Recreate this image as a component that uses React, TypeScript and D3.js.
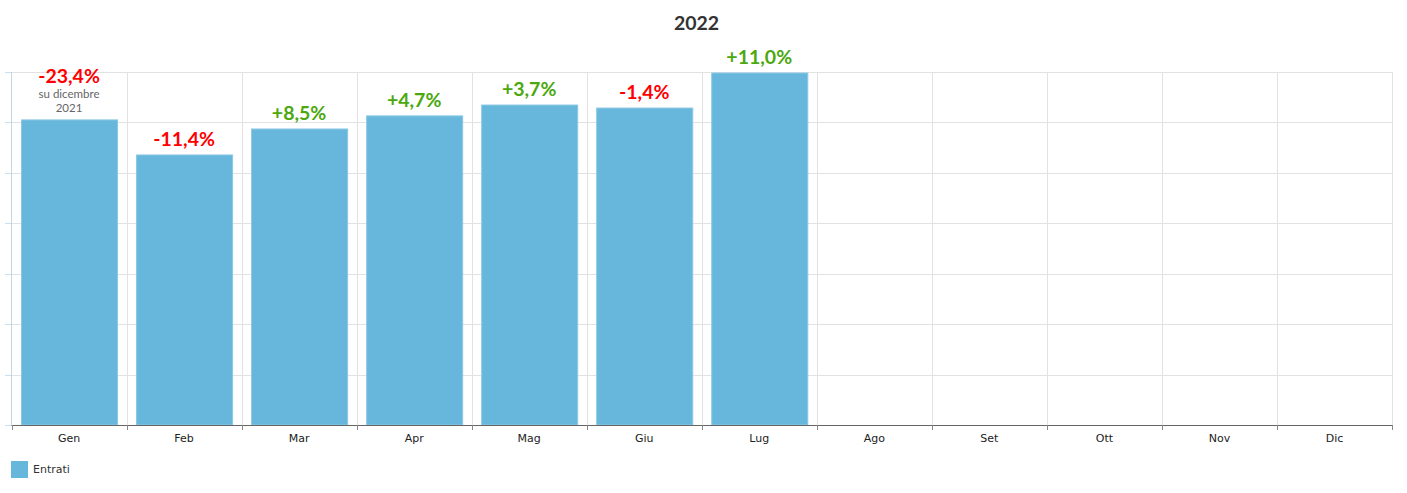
import React from "react";
import * as d3 from "d3";

const months = ["Gen", "Feb", "Mar", "Apr", "Mag", "Giu", "Lug", "Ago", "Set", "Ott", "Nov", "Dic"];
const entrati: (number | null)[] = [6050, 5355, 5870, 6130, 6345, 6285, 6980, null, null, null, null, null];
const changes = ["-23,4%", "-11,4%", "+8,5%", "+4,7%", "+3,7%", "-1,4%", "+11,0%"];
const subLabel = ["su dicembre", "2021"];
const yTicks = [0, 1000, 2000, 3000, 4000, 5000, 6000, 7000];
const title = "2022";
const seriesName = "Entrati";

const W = 1407;
const H = 493;
const left = 11.5;
const right = 1392;
const top = 72;
const bottom = 425;
const barColor = "#67b7dc";

export default function App() {
  const x = d3.scaleBand<string>().domain(months).range([left, right]).paddingInner(0.165).paddingOuter(0.0825);
  const xb = d3.scaleBand<string>().domain(months).range([left, right]).padding(0);
  const y = d3.scaleLinear().domain([0, 7000]).range([bottom, top]);
  const bw = x.bandwidth();

  return (
    <svg width={W} height={H} style={{ display: "block", position: "absolute", left: 0, top: 0 }}>
      <rect width={W} height={H} fill="#fff" />
      <text x={W / 2 - 7} y={30} textAnchor="middle" fontFamily="Lato" fontWeight="bold" fontSize={19.5} fill="#333">{title}</text>
      {/* horizontal grid */}
      {yTicks.map((t) => (
        <g key={"h" + t}>
          <line x1={left} x2={right} y1={Math.round(y(t)) + 0.5} y2={Math.round(y(t)) + 0.5} stroke="#e2e2e2" />
          <line x1={5} x2={left} y1={Math.round(y(t)) + 0.5} y2={Math.round(y(t)) + 0.5} stroke="#c9e1ee" />
        </g>
      ))}
      {/* vertical grid */}
      {months.map((m) => (
        <line key={"v" + m} x1={Math.round((xb(m) as number) + xb.bandwidth()) + 0.5} x2={Math.round((xb(m) as number) + xb.bandwidth()) + 0.5} y1={top} y2={bottom} stroke="#e2e2e2" />
      ))}
      {/* y axis */}
      <line x1={left} x2={left} y1={top} y2={bottom} stroke="#c5d6e0" />
      {/* bars */}
      {months.map((m, i) => {
        const v = entrati[i];
        if (v == null) return null;
        const bx = (x(m) as number) + 0.5;
        return (
          <rect key={"b" + m} x={bx} y={y(v)} width={bw} height={bottom - y(v)} fill={barColor} stroke="#8cc8e4" strokeWidth={1} />
        );
      })}
      {/* x axis */}
      <line x1={left} x2={right} y1={bottom + 0.5} y2={bottom + 0.5} stroke="#666" />
      {[left, ...months.map((m) => (xb(m) as number) + xb.bandwidth())].map((t, i) => (
        <line key={"t" + i} x1={Math.round(t) + 0.5} x2={Math.round(t) + 0.5} y1={bottom} y2={bottom + 5} stroke="#888" />
      ))}
      {months.map((m) => (
        <text key={"l" + m} x={(xb(m) as number) + xb.bandwidth() / 2} y={442} textAnchor="middle" fontFamily="DejaVu Sans" fontSize={11} fill="#222">{m}</text>
      ))}
      {/* value labels */}
      {changes.map((c, i) => {
        const m = months[i];
        const v = entrati[i] as number;
        const cx = (x(m) as number) + bw / 2;
        const isFirst = i === 0;
        const baseY = isFirst ? y(v) - 37 : y(v) - 9;
        return (
          <g key={"c" + i}>
            <text x={cx} y={baseY} textAnchor="middle" fontFamily="Lato" fontWeight="bold" fontSize={19.5} fill={c.startsWith("-") ? "#ff0000" : "#4ba80e"}>{c}</text>
            {isFirst && (
              <>
                <text x={cx} y={baseY + 15} textAnchor="middle" fontFamily="Lato" fontSize={11.5} fill="#666">{subLabel[0]}</text>
                <text x={cx} y={baseY + 29} textAnchor="middle" fontFamily="Lato" fontSize={11.5} fill="#666">{subLabel[1]}</text>
              </>
            )}
          </g>
        );
      })}
      {/* legend */}
      <rect x={11} y={461} width={17} height={17} fill={barColor} />
      <text x={33} y={473} fontFamily="DejaVu Sans" fontSize={11} fill="#333">{seriesName}</text>
    </svg>
  );
}
